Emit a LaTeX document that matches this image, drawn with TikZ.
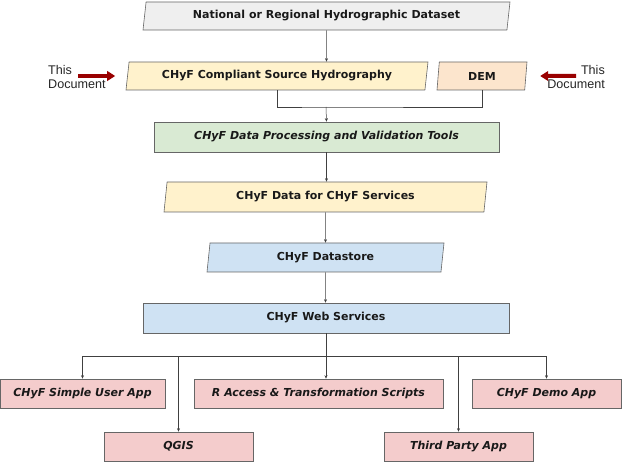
\documentclass[tikz,border=0pt]{standalone}
\usepackage{fontspec}
\setmainfont{DejaVu Sans}
\newfontfamily\arialfont{Liberation Sans}
\usetikzlibrary{shapes.geometric, arrows.meta}

\definecolor{dsgray}{HTML}{EFEFEF}
\definecolor{srcyellow}{HTML}{FFF2CC}
\definecolor{demorange}{HTML}{FCE5CD}
\definecolor{toolgreen}{HTML}{D9EAD3}
\definecolor{svcblue}{HTML}{CFE2F3}
\definecolor{apppink}{HTML}{F4CCCC}
\definecolor{boxline}{HTML}{666666}
\definecolor{wiregray}{HTML}{404040}
\definecolor{docred}{HTML}{990000}

\tikzset{
  box/.style={draw=boxline, line width=0.6pt, inner sep=0pt, text=black!90,
    font=\bfseries\fontsize{11}{13}\selectfont},
  ibox/.style={box, font=\bfseries\itshape\fontsize{11}{13}\selectfont},
  rbox/.style={rectangle, minimum width=#1, minimum height=29},
  pbox/.style={trapezium, trapezium left angle=74, trapezium right angle=106,
    trapezium stretches body, minimum width=#1, minimum height=28},
  wire/.style={draw=wiregray, line width=0.5pt},
  link/.style={wire, -{Stealth[length=3.5pt,width=3pt]}},
  docarrow/.style={draw=docred!70!black, line width=4pt, color=docred,
    -{Triangle[length=8pt,width=9.5pt]}},
  doctext/.style={font=\arialfont\fontsize{12.6}{15}\selectfont, text=black!85, inner sep=0pt}
}

\begin{document}
\begin{tikzpicture}[x=1pt, y=-1pt]
\useasboundingbox (0,0) rectangle (622,462);

% sources
\node[box, pbox=367, fill=dsgray] (nat) at (326.5,16) {National or Regional Hydrographic Dataset};
\node[box, pbox=302, fill=srcyellow] (comp) at (277,76) {CHyF Compliant Source Hydrography};
\node[box, pbox=90, fill=demorange] (dem) at (482,76) {DEM};

% this document markers
\node[doctext, align=left, anchor=west] (ldoc) at (48,77) {This\\Document};
\node[doctext, align=right, anchor=east] (rdoc) at (605,77) {This\\Document};
\coordinate (la) at (78,76);
\coordinate (ra) at (576,76);
\draw[docarrow] (la) -- ([xshift=-12]comp.west);
\draw[docarrow] (ra) -- ([xshift=14]dem.east);

% processing chain
\node[ibox, rbox=345, fill=toolgreen, minimum height=30] (proc) at (326.5,137) {CHyF Data Processing and Validation Tools};
\node[box, pbox=323, fill=srcyellow, minimum height=30] (data) at (325.5,197) {CHyF Data for CHyF Services};
\node[box, pbox=237, fill=svcblue, minimum height=29] (store) at (325.5,257.5) {CHyF Datastore};
\node[box, rbox=366, fill=svcblue, minimum height=30] (web) at (326,318) {CHyF Web Services};

% applications
\node[ibox, rbox=165, fill=apppink] (simple) at (82.5,393.5) {CHyF Simple User App};
\node[ibox, rbox=249, fill=apppink] (racc) at (318.5,393.5) {R Access \& Transformation Scripts};
\node[ibox, rbox=149, fill=apppink] (demo) at (546.5,393.5) {CHyF Demo App};
\node[ibox, rbox=149, fill=apppink] (qgis) at (178.5,446.5) {QGIS};
\node[ibox, rbox=149, fill=apppink] (third) at (458.5,446.5) {Third Party App};

% connectors
\coordinate (mrg) at (326,107);
\coordinate (bus) at (326,356);
\draw[link] (nat) -- (nat |- comp.north);
\draw[wire] (comp.south) |- (mrg) -| (dem.south);
\draw[link] (mrg) -- (proc.north);
\draw[link] (proc) -- (proc |- data.north);
\draw[link] (data) -- (data |- store.north);
\draw[link] (store) -- (store |- web.north);
\draw[wire] (web.south) -- (bus);
\draw[link] (bus) -| (simple.north);
\draw[link] (bus) -| (qgis.north);
\draw[link] (bus) -- (bus |- racc.north);
\draw[link] (bus) -| (third.north);
\draw[link] (bus) -| (demo.north);
\end{tikzpicture}
\end{document}
